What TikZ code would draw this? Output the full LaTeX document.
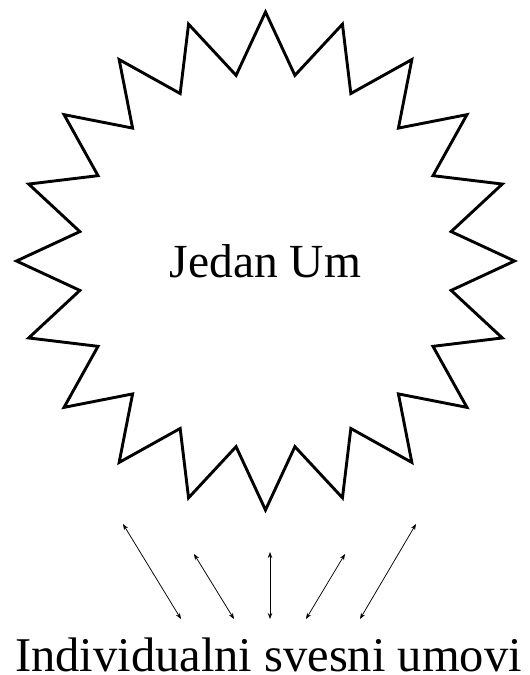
\documentclass[tikz,border=0pt]{standalone}
\usepackage{fontspec}
\setmainfont{Liberation Serif}
\usetikzlibrary{shapes.geometric,arrows.meta}
\tikzset{
  bigstar/.style={star, star points=20, star point ratio=1.325, draw,
    line width=2.9pt, minimum size=498pt, inner sep=0pt,
    font=\fontsize{47.5}{52}\selectfont},
  minds/.style={anchor=base, inner sep=0pt, font=\fontsize{48.5}{52}\selectfont},
  mindlink/.style={{Stealth[length=6pt,width=4.5pt]}-{Stealth[length=6pt,width=4.5pt]},
    line width=0.75pt},
}
\begin{document}
\begin{tikzpicture}[x=1pt,y=-1pt]
\useasboundingbox (0,0) rectangle (530,675);
% the one mind
\node[bigstar] (one) at (265.5,261) {Jedan Um};
% the individual minds
\node[minds] (many) at (268.5,671) {Individualni svesni umovi};
% links
\foreach \n/\tx/\ty/\bx in {1/123/524/181, 2/194/554/234, 3/270/552/270,
    4/345/554/306, 5/416/524/360} {
  \coordinate (up\n) at (\tx,\ty);
  \coordinate (low\n) at (\bx,619);
  \draw[mindlink] (up\n) -- (low\n);
}
\end{tikzpicture}
\end{document}
